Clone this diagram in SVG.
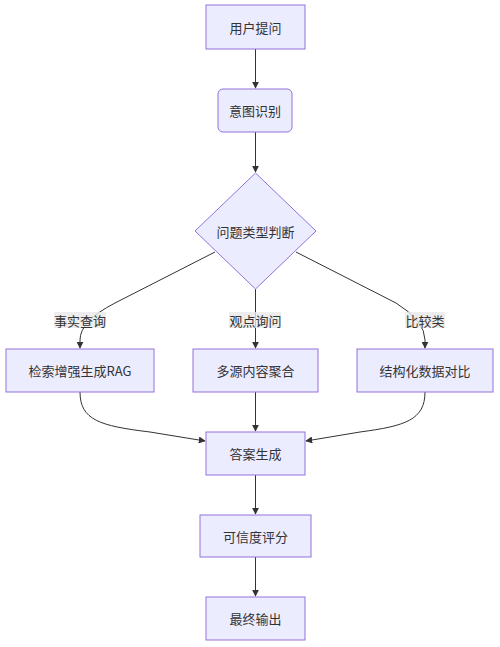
<svg xmlns="http://www.w3.org/2000/svg" width="500" height="647" viewBox="0 0 500 647">
<defs>
<marker id="arrow" viewBox="0 0 10 10" refX="9" refY="5" markerWidth="7" markerHeight="7" orient="auto" markerUnits="userSpaceOnUse">
<path d="M0,0 L10,5 L0,10 z" fill="#333"/>
</marker>
<style>
.node rect, .node polygon { fill: #ECECFF; stroke: #9370DB; stroke-width: 1; }
.node text { font-family: "Noto Sans CJK SC", "Noto Sans", sans-serif; font-size: 13px; fill: #333; text-anchor: middle; dominant-baseline: central; }
.edges path { fill: none; stroke: #333; stroke-width: 1; marker-end: url(#arrow); }
.elabel rect { fill: #E8E8E8; fill-opacity: 0.8; }
.elabel text { font-family: "Noto Sans CJK SC", "Noto Sans", sans-serif; font-size: 13px; fill: #333; text-anchor: middle; dominant-baseline: central; }
</style>
</defs>
<rect width="500" height="647" fill="#ffffff"/>
<g class="edges" id="connectors">
<path d="M255.5,49 L255.5,88"/>
<path d="M255.5,132 L255.5,172"/>
<path d="M215,252 L115,303 Q80,321 80,340 L80,348"/>
<path d="M255.5,289 L255.5,348"/>
<path d="M296,252 L396,303 Q425,321 425,340 L425,348"/>
<path d="M80,392 C80,420 100,426 150,432 L205,441"/>
<path d="M255.5,392 L255.5,431"/>
<path d="M425,392 C425,420 405,426 360,432 L306,441"/>
<path d="M255.5,475 L255.5,514"/>
<path d="M255.5,557 L255.5,596"/>
</g>
<g class="elabel" id="label-fact">
<rect x="54" y="312" width="52" height="16"/>
<text x="80" y="320">事实查询</text>
</g>
<g class="elabel" id="label-opinion">
<rect x="229" y="312" width="52" height="16"/>
<text x="255.5" y="320">观点询问</text>
</g>
<g class="elabel" id="label-compare">
<rect x="405" y="312" width="40" height="16"/>
<text x="425" y="320">比较类</text>
</g>
<g class="node" id="n-ask">
<rect x="206" y="5" width="99" height="44"/>
<text x="255.5" y="27">用户提问</text>
</g>
<g class="node" id="n-intent">
<rect x="218" y="89" width="74" height="43" rx="5" ry="5"/>
<text x="255" y="110.5">意图识别</text>
</g>
<g class="node" id="n-judge">
<polygon points="255.5,173 316,231 255.5,289 195,231"/>
<text x="255.5" y="231">问题类型判断</text>
</g>
<g class="node" id="n-rag">
<rect x="6" y="349" width="148" height="43"/>
<text x="80" y="370.5">检索增强生成RAG</text>
</g>
<g class="node" id="n-multi">
<rect x="193" y="349" width="125" height="43"/>
<text x="255.5" y="370.5">多源内容聚合</text>
</g>
<g class="node" id="n-struct">
<rect x="357" y="349" width="136" height="43"/>
<text x="425" y="370.5">结构化数据对比</text>
</g>
<g class="node" id="n-answer">
<rect x="206" y="432" width="99" height="43"/>
<text x="255.5" y="453.5">答案生成</text>
</g>
<g class="node" id="n-score">
<rect x="200" y="515" width="111" height="42"/>
<text x="255.5" y="536">可信度评分</text>
</g>
<g class="node" id="n-final">
<rect x="206" y="597" width="99" height="43"/>
<text x="255.5" y="618.5">最终输出</text>
</g>
</svg>
